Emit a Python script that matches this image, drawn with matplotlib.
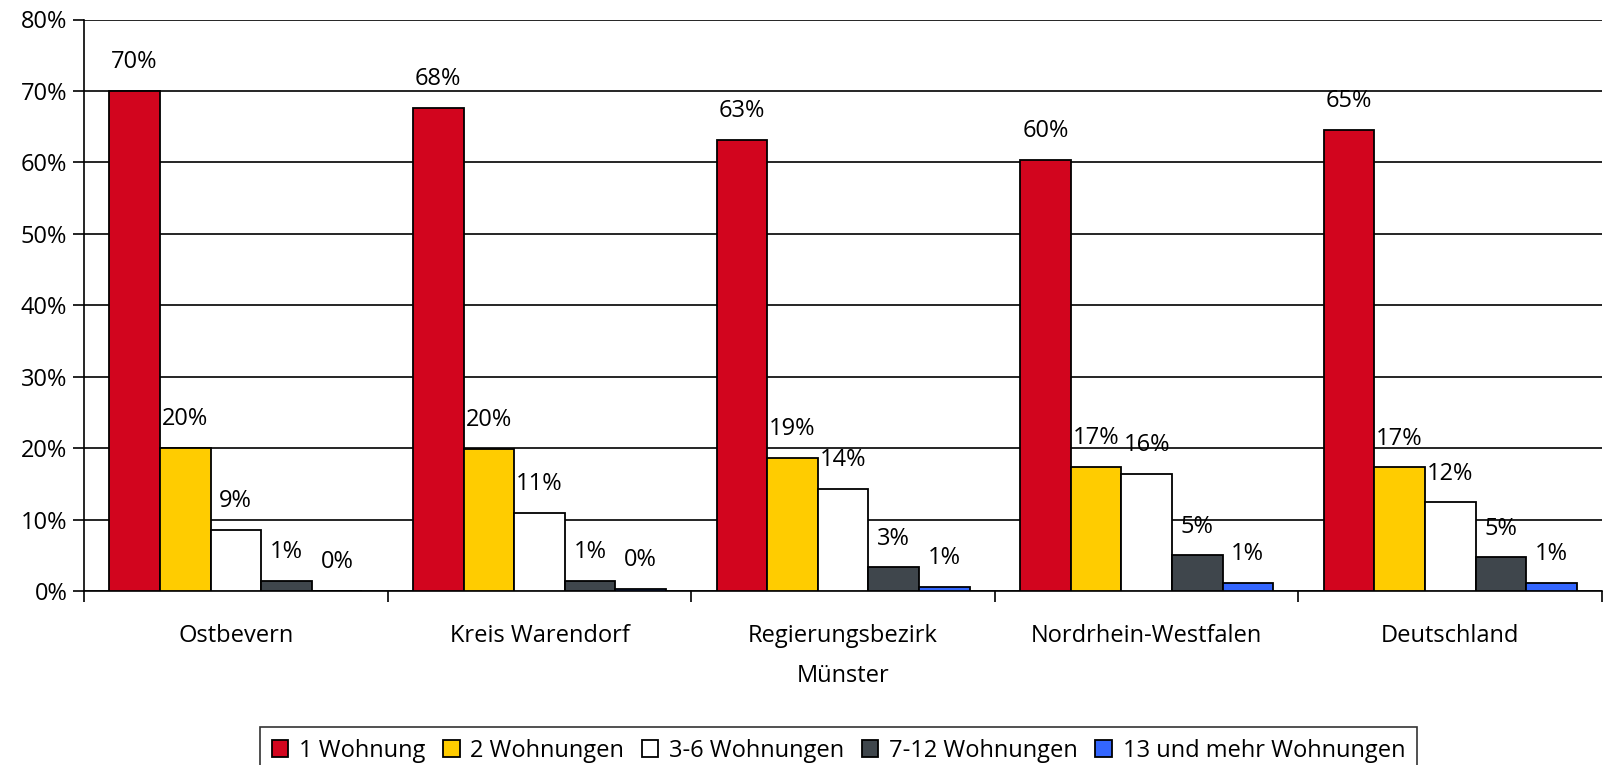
import numpy as np
import matplotlib.pyplot as plt

plt.rcParams['font.family'] = ['Open Sans', 'DejaVu Sans']

regions = ['Ostbevern', 'Kreis Warendorf', 'Regierungsbezirk\nMünster',
           'Nordrhein-Westfalen', 'Deutschland']
series = ['1 Wohnung', '2 Wohnungen', '3-6 Wohnungen', '7-12 Wohnungen',
          '13 und mehr Wohnungen']
colors = ['#D2051E', '#FFCC00', '#FFFFFF', '#3F464C', '#3366FF']

# share of buildings in percent
one_flat = [70.0, 67.6, 63.2, 60.4, 64.6]
two_flats = [20.0, 19.9, 18.6, 17.4, 17.3]
three_six = [8.6, 10.9, 14.3, 16.4, 12.4]
seven_twelve = [1.4, 1.4, 3.3, 5.0, 4.7]
thirteen_plus = [0.0, 0.3, 0.6, 1.1, 1.1]
values = [one_flat, two_flats, three_six, seven_twelve, thirteen_plus]

fs = 17

fig = plt.figure(figsize=(16.05, 7.65), dpi=100)
ax = fig.add_axes([84 / 1605, 1 - 591 / 765, 1518 / 1605, 571.5 / 765])

x = np.arange(len(regions))
w = 1 / 6
for i, (name, vals, col) in enumerate(zip(series, values, colors)):
    bars = ax.bar(x + (i - 2) * w, vals, width=w, color=col, edgecolor='black',
                  linewidth=1.3, label=name, zorder=3)
    for b, v in zip(bars, vals):
        ax.annotate(f'{v:.0f}%', (b.get_x() + b.get_width() / 2, v),
                    xytext=(0, 12), textcoords='offset points',
                    ha='center', va='bottom', fontsize=fs)

ax.set_xlim(-0.5, 4.5)
ax.set_ylim(0, 80)
ax.set_yticks(range(0, 81, 10))
ax.set_yticklabels([f'{t}%' for t in range(0, 81, 10)], fontsize=fs)
ax.yaxis.grid(True, color='black', linewidth=1.2, zorder=0)
ax.set_axisbelow(True)

# group labels centred, ticks between groups
ax.set_xticks(x)
ax.set_xticklabels(regions, fontsize=fs, linespacing=1.85)
ax.tick_params(axis='x', length=0, pad=24)
ax.set_xticks(np.arange(-0.5, 5, 1), minor=True)
ax.tick_params(axis='x', which='minor', length=8, width=1.2, direction='out')
ax.tick_params(axis='y', length=8, width=1.2, pad=4)

for s in ['top', 'right']:
    ax.spines[s].set_visible(False)
ax.spines['left'].set_linewidth(1.2)
ax.spines['bottom'].set_linewidth(1.2)

leg = fig.legend(loc='upper left', bbox_to_anchor=(260 / 1605, 1 - 727 / 765),
                 ncol=5, fontsize=fs, frameon=True, fancybox=False,
                 edgecolor='black', handlelength=0.7, handleheight=0.7,
                 handletextpad=0.45, columnspacing=0.75, borderpad=0.5,
                 borderaxespad=0)
leg.get_frame().set_linewidth(1.2)

plt.savefig('out.png', dpi=100)
